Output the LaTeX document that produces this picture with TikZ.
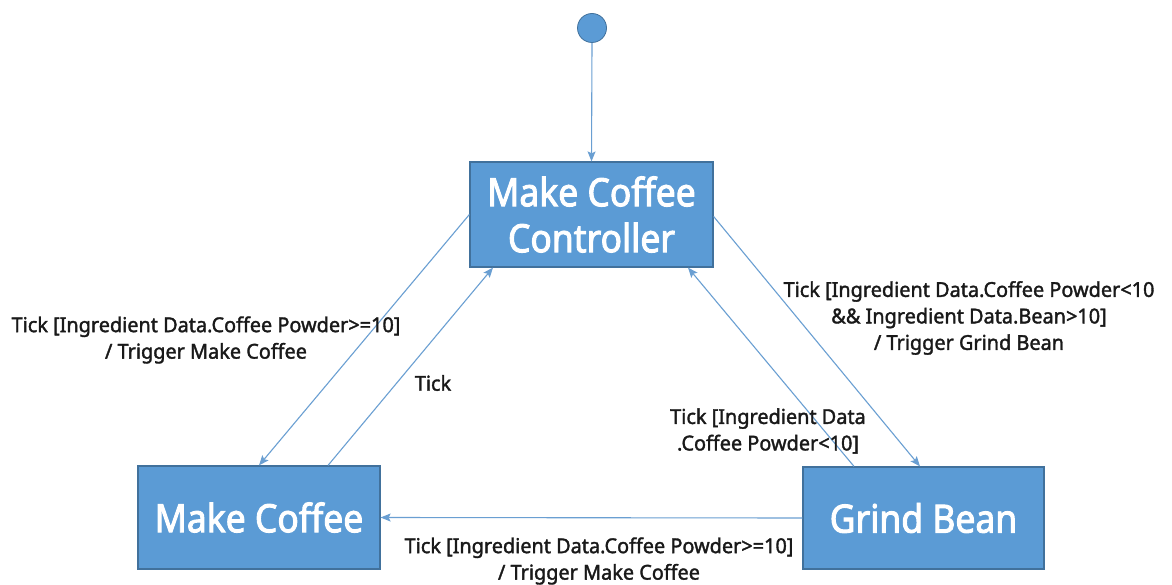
\documentclass[tikz,border=0pt]{standalone}
\usepackage{fontspec}
\setmainfont{Noto Sans}
\newfontfamily\statefont[FakeStretch=0.91,FakeBold=2.4]{Noto Sans}
\newfontfamily\labelfont[FakeStretch=0.97,FakeBold=1.7]{Noto Sans}
\usetikzlibrary{arrows.meta}
\definecolor{stateblue}{HTML}{5B9BD5}
\definecolor{stateedge}{HTML}{41719C}
\definecolor{linkblue}{HTML}{6A9FD2}
\begin{document}
\begin{tikzpicture}[x=1pt,y=-1pt,
  statebox/.style={draw=stateedge,line width=1.2pt,fill=stateblue,text=white,
    minimum width=242pt,minimum height=103pt,inner sep=0pt,align=center,
    font=\statefont\fontsize{39}{46}\selectfont},
  startdot/.style={circle,draw=stateedge,line width=0.8pt,fill=stateblue,
    minimum size=29pt,inner sep=0pt},
  link/.style={draw=linkblue,line width=1.1pt,
    -{Stealth[length=10pt,width=8pt,inset=2pt]}},
  guard/.style={align=center,text=black!90,
    font=\labelfont\fontsize{20.5}{26.5}\selectfont}]
\useasboundingbox (0,0) rectangle (1172,585);
\fill[white] (0,0) rectangle (1172,585);

% states
\node[startdot] (init) at (592,28) {};
\node[statebox,minimum width=243pt,minimum height=105pt] (ctrl) at (591.5,214.5) {Make Coffee\\Controller};
\node[statebox] (mc) at (259,517.5) {Make Coffee};
\node[statebox,minimum width=241pt,minimum height=102pt] (gb) at (923.5,518) {Grind Bean};

% transitions
\draw[link] (init.south) -- (ctrl.north);
\draw[link] (ctrl.west) -- (mc.north);
\draw[link] ([xshift=69pt]mc.north) -- ([xshift=-98.5pt]ctrl.south);
\draw[link] ([yshift=-2pt]ctrl.east) -- ([xshift=-3.5pt]gb.north);
\draw[link] ([xshift=-69.5pt]gb.north) -- ([xshift=96.5pt]ctrl.south);
\draw[link] (gb.west) -- (mc.east);

% guards and actions
\node[guard] (g1) at (206,340) {Tick [Ingredient Data.Coffee Powder>=10]\\/ Trigger Make Coffee};
\node[guard] (g2) at (433,383) {Tick};
\node[guard] (g3) at (969,318) {Tick [Ingredient Data.Coffee Powder<10\\\&\& Ingredient Data.Bean>10]\\/ Trigger Grind Bean};
\node[guard] (g4) at (768,431) {Tick [Ingredient Data\\.Coffee Powder<10]};
\node[guard] (g5) at (599,561) {Tick [Ingredient Data.Coffee Powder>=10]\\/ Trigger Make Coffee};
\end{tikzpicture}
\end{document}
